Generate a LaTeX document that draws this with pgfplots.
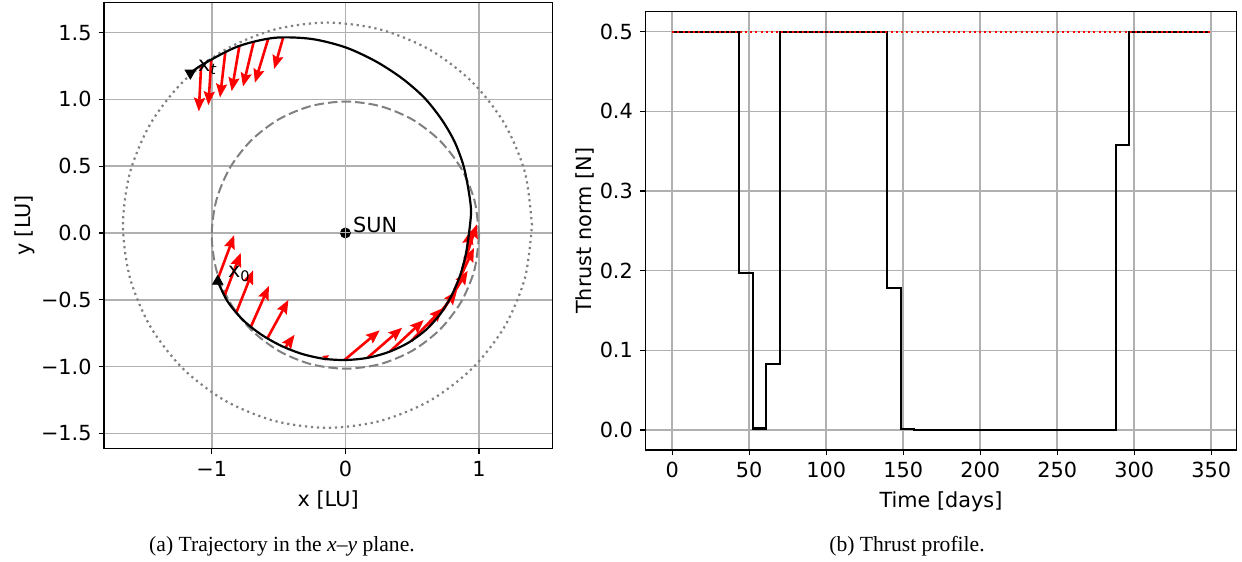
\documentclass[border=0pt]{standalone}
\usepackage{fontspec}
\setmainfont{DejaVu Sans}
\newfontfamily\capfont{Liberation Serif}
\usepackage{pgfplots}
\usepackage{pgfplotstable}
\pgfplotsset{compat=1.18}
\usetikzlibrary{arrows.meta}

\definecolor{gridgray}{RGB}{176,176,176}
\definecolor{orbgray}{RGB}{128,128,128}
\newcommand\tfont{\fontsize{10.4}{12.5}\selectfont}

\pgfplotstableread{
x y u v
-0.957 -0.352 0.125 0.336
-0.905 -0.471 0.122 0.322
-0.817 -0.598 0.126 0.318
-0.707 -0.702 0.135 0.305
-0.584 -0.789 0.158 0.288
-0.450 -0.858 0.070 0.096
-0.007 -0.951 0.264 0.222
0.165 -0.935 0.260 0.226
0.334 -0.887 0.252 0.235
0.491 -0.810 0.240 0.248
0.623 -0.706 0.212 0.272
0.732 -0.576 0.183 0.293
0.816 -0.425 0.146 0.313
0.876 -0.264 0.107 0.328
0.912 -0.101 0.026 0.120
-0.465 1.465 -0.068 -0.237
-0.577 1.455 -0.100 -0.330
-0.686 1.432 -0.080 -0.336
-0.793 1.401 -0.058 -0.340
-0.898 1.357 -0.040 -0.343
-1.003 1.302 -0.022 -0.345
-1.079 1.255 -0.018 -0.345
}\arrows

\pgfplotstableread{
x y u v
-0.166 -0.941 0.045 0.026
}\smallarrows

\pgfplotstableread{
t T
0 0.5
43.625 0.197
52.35 0.002
61.075 0.083
69.8 0.5
139.6 0.178
148.325 0.0015
157.05 0.0004
287.925 0.358
296.65 0.5
349 0.5
}\thrust

\pgfplotsset{
  myaxis/.style={
    scale only axis,
    axis line style={black, line width=0.6pt},
    grid=major,
    major grid style={gridgray, line width=0.8pt},
    tick align=outside,
    major tick length=2.7pt,
    tick style={black, line width=0.6pt},
    tick pos=lower,
    tick label style={font=\tfont},
    label style={font=\tfont},
    /pgf/number format/assume math mode=true,
  }
}

\begin{document}
\begin{tikzpicture}
\path[use as bounding box] (0,0) rectangle (621pt,281pt);

\begin{axis}[myaxis, at={(52pt,56.65pt)}, anchor=south west,
  width=224.15pt, height=223.2pt,
  xmin=-1.806, xmax=1.548, ymin=-1.615, ymax=1.727,
  xtick={-1,0,1}, xticklabels={−1,0,1},
  ytick={-1.5,-1,-0.5,0,0.5,1,1.5},
  yticklabels={−1.5,−1.0,−0.5,0.0,0.5,1.0,1.5},
  xlabel={x [LU]}, ylabel={y [LU]},
  ylabel style={yshift=-4pt}]
% Mars-like orbit (dotted)
\addplot[orbgray, line width=1.1pt, dash pattern=on 1.1pt off 1.9pt, smooth] coordinates {
(1.396,0.058) (1.344,0.451) (1.191,0.817) (0.948,1.131) (0.631,1.372) (0.262,1.523)
(-0.134,1.575) (-0.530,1.523) (-0.899,1.372) (-1.216,1.131) (-1.459,0.817) (-1.612,0.451)
(-1.664,0.058) (-1.612,-0.335) (-1.459,-0.701) (-1.216,-1.015) (-0.899,-1.256) (-0.530,-1.407)
(-0.134,-1.459) (0.262,-1.407) (0.631,-1.256) (0.948,-1.015) (1.191,-0.701) (1.344,-0.335)
(1.396,0.058)};
% Earth orbit (dashed)
\addplot[orbgray, line width=1pt, dash pattern=on 4.8pt off 2pt, smooth] coordinates {
(1,-0.016) (0.966,0.243) (0.866,0.484) (0.707,0.691) (0.5,0.850) (0.259,0.950)
(0,0.984) (-0.259,0.950) (-0.5,0.850) (-0.707,0.691) (-0.866,0.484) (-0.966,0.243)
(-1,-0.016) (-0.966,-0.275) (-0.866,-0.516) (-0.707,-0.723) (-0.5,-0.882) (-0.259,-0.982)
(0,-1.016) (0.259,-0.982) (0.5,-0.882) (0.707,-0.723) (0.866,-0.516) (0.966,-0.275)
(1,-0.016)};
% thrust arrows
\addplot[red, line width=1.3pt, -{Stealth[length=6.8pt,width=5.4pt,inset=1pt]},
  quiver={u=\thisrow{u}, v=\thisrow{v}}] table[x=x,y=y] {\arrows};
\addplot[red, line width=0.65pt, -{Stealth[length=3.2pt,width=2.7pt,inset=0.5pt]},
  quiver={u=\thisrow{u}, v=\thisrow{v}}] table[x=x,y=y] {\smallarrows};
% trajectory
\addplot[black, line width=1.1pt, smooth] coordinates {
(-0.955,-0.362) (-0.883,-0.510) (-0.771,-0.647) (-0.635,-0.757) (-0.486,-0.842)
(-0.329,-0.904) (-0.166,-0.941) (0,-0.951) (0.165,-0.935) (0.324,-0.891)
(0.474,-0.820) (0.606,-0.722) (0.715,-0.600) (0.798,-0.461) (0.860,-0.313)
(0.901,-0.159) (0.925,0) (0.940,0.166) (0.919,0.334) (0.882,0.509)
(0.816,0.685) (0.717,0.854) (0.587,1.016) (0.422,1.159) (0.227,1.285)
(0,1.390) (-0.256,1.453) (-0.532,1.461) (-0.806,1.396) (-1.062,1.265)
(-1.160,1.197)};
% markers
\addplot[only marks, black, mark=triangle*, mark size=3pt] coordinates {(-0.955,-0.362)};
\addplot[only marks, black, mark=triangle*, mark size=3pt, mark options={rotate=180}] coordinates {(-1.160,1.197)};
\addplot[only marks, black, mark=*, mark size=2.5pt] coordinates {(0,0)};
\addplot[only marks, gridgray, mark=+, mark size=2.5pt, mark options={line width=0.5pt}] coordinates {(0,0)};
\node[anchor=base west, font=\tfont, inner sep=0pt] at (axis cs:0.055,0) {SUN};
\node[anchor=base west, font=\tfont, inner sep=0pt] at (axis cs:-0.88,-0.335) {x\textsubscript{0}};
\node[anchor=base west, font=\tfont, inner sep=0pt] at (axis cs:-1.105,1.21) {x\textsubscript{\textit{t}}};
\end{axis}

\begin{axis}[myaxis, at={(322.65pt,56pt)}, anchor=south west,
  width=295.65pt, height=219.15pt,
  xmin=-17.45, xmax=366.45, ymin=-0.025, ymax=0.525,
  xtick={0,50,100,150,200,250,300,350},
  ytick={0,0.1,0.2,0.3,0.4,0.5},
  yticklabels={0.0,0.1,0.2,0.3,0.4,0.5},
  xlabel={Time [days]}, ylabel={Thrust norm [N]},
  ylabel style={yshift=-4pt}]
\addplot[black, line width=1.1pt, const plot mark left] table[x=t,y=T] {\thrust};
\addplot[red, line width=1pt, dash pattern=on 1pt off 1.6pt] coordinates {(0,0.5) (349,0.5)};
\end{axis}

\node[font=\capfont\fontsize{10.8}{13}\selectfont] at (141pt,8pt) {(a) Trajectory in the \textit{x}–\textit{y} plane.};
\node[font=\capfont\fontsize{10.8}{13}\selectfont] at (453.5pt,8pt) {(b) Thrust profile.};
\end{tikzpicture}
\end{document}
